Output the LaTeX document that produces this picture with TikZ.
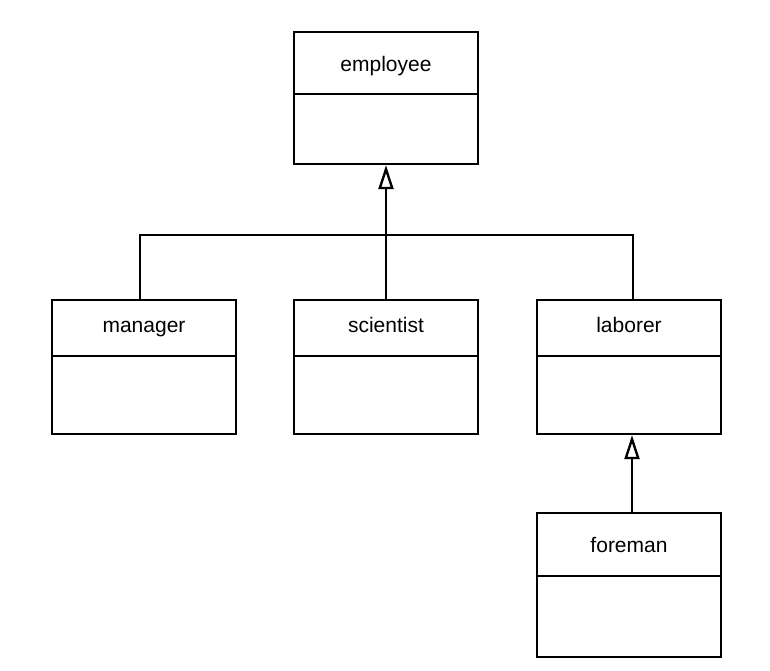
\documentclass[tikz,border=0pt]{standalone}
\usepackage{fontspec}
\setmainfont{Liberation Sans}
\usepackage{tikz}
\usetikzlibrary{arrows.meta, positioning}
\tikzstyle{classbox} = [draw, line width=1.2pt, minimum width=92pt, inner sep=0pt]
\tikzstyle{classname} = [font=\fontsize{10.5}{12}\selectfont, inner sep=0pt, anchor=base]
\tikzstyle{link} = [line width=1.2pt]
\tikzstyle{inherit} = [line width=1.2pt,-{Triangle[open,length=12pt,width=7.5pt]}]

\begin{document}
\begin{tikzpicture}[x=0.5pt,y=-0.5pt]
	\useasboundingbox (0,0) rectangle (770,670);

	% Classes:
	% Each class is a box with a name part on top and an empty part below
	\node[classbox, minimum height=66pt] (employee)  at (386,98)  {};
	\node[classbox, minimum height=67pt] (manager)   at (144,367) {};
	\node[classbox, minimum height=67pt] (scientist) at (386,367) {};
	\node[classbox, minimum height=67pt] (laborer)   at (629,367) {};
	\node[classbox, minimum height=72pt] (foreman)   at (629,585) {};

	% Names and dividers:
	\node[classname] (employee-name)  at ([yshift=-20.5pt]employee.north) {employee};
	\node[classname] (manager-name)   at ([yshift=-17pt]manager.north)    {manager};
	\node[classname] (scientist-name) at ([yshift=-17pt]scientist.north)  {scientist};
	\node[classname] (laborer-name)   at ([yshift=-17pt]laborer.north)    {laborer};
	\node[classname] (foreman-name)   at ([yshift=-20.5pt]foreman.north)  {foreman};

	\draw[link] ([yshift=-31.5pt]employee.north west)  -- ([yshift=-31.5pt]employee.north east);
	\draw[link] ([yshift=-28.5pt]manager.north west)   -- ([yshift=-28.5pt]manager.north east);
	\draw[link] ([yshift=-28.5pt]scientist.north west) -- ([yshift=-28.5pt]scientist.north east);
	\draw[link] ([yshift=-28.5pt]laborer.north west)   -- ([yshift=-28.5pt]laborer.north east);
	\draw[link] ([yshift=-32pt]foreman.north west)     -- ([yshift=-32pt]foreman.north east);

	% Generalisation:
	\coordinate (join) at (386,235);
	\draw[link] ([xshift=-2pt]manager.north) |- (join) -| ([xshift=2pt]laborer.north);
	\draw[inherit] (scientist.north) -- (employee.south);
	\draw[inherit] ([xshift=1.5pt]foreman.north) -- ([xshift=1.5pt]laborer.south);
\end{tikzpicture}
\end{document}
